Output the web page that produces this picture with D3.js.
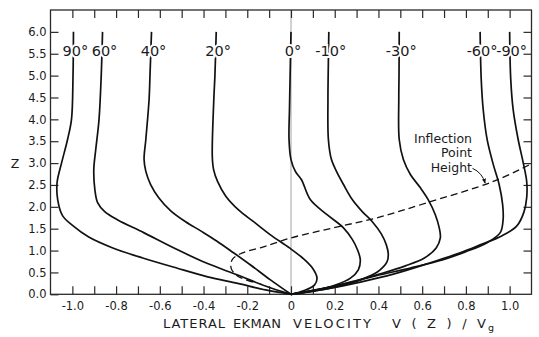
<!DOCTYPE html>
<html>
<head>
<meta charset="utf-8">
<script src="https://cdn.jsdelivr.net/npm/d3@7"></script>
<style>
  body { margin: 0; background: #fff; }
  svg { display: block; }
  text { font-family: "DejaVu Sans", sans-serif; fill: #1b1b1b; }
</style>
</head>
<body>
<svg id="chart" width="539" height="337"></svg>
<script>
// lateral Ekman velocity v(z)/Vg against height z, one profile per latitude
// each profile is a list of [v, z] pairs
var lat90  = [[-0.995,6.0],[-0.997,5.0],[-1.004,4.0],[-1.022,3.54],[-1.049,3.01],[-1.070,2.55],[-1.067,2.16],[-1.045,1.80],[-0.998,1.57],[-0.925,1.31],[-0.815,1.06],[-0.678,0.83],[-0.523,0.60],[-0.381,0.40],[-0.244,0.25],[-0.116,0.10],[0,0]];
var lat60  = [[-0.862,6.0],[-0.868,5.0],[-0.878,4.0],[-0.893,3.31],[-0.902,2.85],[-0.897,2.39],[-0.884,2.09],[-0.852,1.89],[-0.792,1.70],[-0.674,1.41],[-0.528,1.04],[-0.390,0.72],[-0.244,0.44],[-0.117,0.19],[0,0]];
var lat40  = [[-0.638,6.0],[-0.645,5.0],[-0.649,4.46],[-0.664,3.54],[-0.672,3.08],[-0.664,2.81],[-0.642,2.51],[-0.605,2.21],[-0.550,1.91],[-0.482,1.66],[-0.413,1.45],[-0.340,1.22],[-0.263,0.95],[-0.185,0.67],[-0.094,0.33],[0,0]];
var lat20  = [[-0.342,6.0],[-0.348,5.0],[-0.353,4.46],[-0.360,3.15],[-0.354,2.85],[-0.336,2.58],[-0.299,2.25],[-0.240,1.93],[-0.171,1.66],[-0.094,1.36],[-0.007,1.06],[0.053,0.83],[0.098,0.60],[0.119,0.37],[0.107,0.21],[0.057,0.08],[0,0]];
var lat0   = [[0,6.0],[-0.004,5.0],[-0.007,4.22],[-0.009,3.54],[0,3.08],[0.020,2.81],[0.048,2.62],[0.089,2.16],[0.165,1.82],[0.240,1.52],[0.281,1.25],[0.304,1.02],[0.317,0.79],[0.308,0.56],[0.272,0.37],[0.203,0.21],[0.120,0.10],[0,0]];
var latS10 = [[0.173,6.0],[0.170,5.0],[0.169,4.46],[0.171,3.54],[0.185,3.08],[0.208,2.81],[0.240,2.51],[0.281,2.16],[0.326,1.89],[0.372,1.66],[0.413,1.38],[0.436,1.13],[0.445,0.92],[0.439,0.74],[0.395,0.51],[0.317,0.33],[0.226,0.19],[0.112,0.08],[0,0]];
var latS30 = [[0.495,6.0],[0.494,5.0],[0.493,4.46],[0.495,3.54],[0.514,3.08],[0.546,2.74],[0.591,2.44],[0.628,2.16],[0.660,1.82],[0.678,1.52],[0.683,1.29],[0.664,1.06],[0.610,0.83],[0.523,0.65],[0.409,0.47],[0.295,0.31],[0.158,0.14],[0,0]];
var latS60 = [[0.865,6.0],[0.870,4.92],[0.879,4.23],[0.897,3.54],[0.925,2.97],[0.952,2.51],[0.968,2.05],[0.970,1.70],[0.957,1.41],[0.897,1.18],[0.797,0.97],[0.696,0.79],[0.546,0.60],[0.386,0.42],[0.226,0.21],[0.089,0.08],[0,0]];
var latS90 = [[1.000,6.0],[1.005,4.92],[1.016,4.23],[1.039,3.54],[1.062,3.01],[1.078,2.58],[1.078,2.21],[1.066,1.89],[1.034,1.57],[0.966,1.34],[0.865,1.13],[0.774,0.95],[0.637,0.72],[0.468,0.46],[0.317,0.28],[0.158,0.12],[0,0]];

var latLabels = ["90°", "60°", "40°", "20°", "0°", "-10°", "-30°", "-60°", "-90°"];

// dashed locus of the inflection points
var inflection = [[-0.175,0.28],[-0.245,0.42],[-0.274,0.60],[-0.268,0.80],[-0.225,0.94],[-0.130,1.08],[0,1.29],[0.194,1.52],[0.394,1.75],[0.620,2.09],[0.925,2.58],[1.094,2.97]];

var xTickValues = d3.range(-10, 11).map(function(i){ return i / 10; });
var xLabelValues = [-1.0, -0.8, -0.6, -0.4, -0.2, 0, 0.2, 0.4, 0.6, 0.8, 1.0];
var xLabelText = ["-1.0", "-0.8", "-0.6", "-0.4", "-0.2", "0", "0.2", "0.4", "0.6", "0.8", "1.0"];
var yTickValues = [0, 0.5, 1.0, 1.5, 2.0, 2.5, 3.0, 3.5, 4.0, 4.5, 5.0, 5.5, 6.0];
var yLabelText = ["0.0", "0.5", "1.0", "1.5", "2.0", "2.5", "3.0", "3.5", "4.0", "4.5", "5.0", "5.5", "6.0"];

var noteLines = ["Inflection", "Point", "Height"];
var titleWords = ["LATERAL", "EKMAN", "VELOCITY", "V(Z)/V"];

window.onload = function(){

    var svg = d3.select("#chart");

    var x = d3.scaleLinear().domain([-1.1, 1.1]).range([50.5, 531.5]);
    var y = d3.scaleLinear().domain([0, 6.5]).range([294.3, 10]);

    var profiles = [lat90, lat60, lat40, lat20, lat0, latS10, latS30, latS60, latS90];

    // zero line
    svg.append('line')
        .attr('x1', x(0)).attr('x2', x(0))
        .attr('y1', y(6.5)).attr('y2', y(0))
        .attr('stroke', '#9a9a9a')
        .attr('stroke-width', 0.9);

    // axes with inward ticks
    var lab = {};
    xLabelValues.forEach(function(v, i){ lab[v.toFixed(1)] = xLabelText[i]; });

    var bottom = svg.append('g')
        .attr('transform', 'translate(0,' + y(0) + ')')
        .call(d3.axisBottom(x).tickValues(xTickValues).tickSizeInner(-8).tickSizeOuter(0).tickPadding(8)
            .tickFormat(function(d){ return lab[d.toFixed(1)] || ''; }));

    var top = svg.append('g')
        .attr('transform', 'translate(0,' + y(6.5) + ')')
        .call(d3.axisTop(x).tickValues(xTickValues).tickSizeInner(-8).tickSizeOuter(0).tickFormat(''));

    var left = svg.append('g')
        .attr('transform', 'translate(' + x(-1.1) + ',0)')
        .call(d3.axisLeft(y).tickValues(yTickValues).tickSizeInner(-8).tickSizeOuter(0).tickPadding(4)
            .tickFormat(function(d, i){ return yLabelText[i]; }));

    var right = svg.append('g')
        .attr('transform', 'translate(' + x(1.1) + ',0)')
        .call(d3.axisRight(y).tickValues(yTickValues.slice(1)).tickSizeInner(-8).tickSizeOuter(0).tickFormat(''));

    [bottom, top, left, right].forEach(function(g){
        g.select('.domain').remove();
        g.selectAll('line').attr('stroke', '#2a2a2a').attr('stroke-width', 1.2);
        g.selectAll('text')
            .attr('font-family', '"DejaVu Sans", sans-serif')
            .attr('font-size', '11.5px')
            .attr('fill', '#1b1b1b');
    });

    svg.append('rect')
        .attr('x', x(-1.1)).attr('y', y(6.5))
        .attr('width', x(1.1) - x(-1.1)).attr('height', y(0) - y(6.5))
        .attr('fill', 'none')
        .attr('stroke', '#2a2a2a')
        .attr('stroke-width', 1.3);

    var line = d3.line()
        .x(function(d){ return x(d[0]); })
        .y(function(d){ return y(d[1]); })
        .curve(d3.curveCatmullRom.alpha(0.5));

    svg.append('g').selectAll('path')
        .data(profiles)
        .enter().append('path')
        .attr('d', line)
        .attr('fill', 'none')
        .attr('stroke', '#111')
        .attr('stroke-width', 1.7);

    svg.append('path')
        .attr('d', line(inflection))
        .attr('fill', 'none')
        .attr('stroke', '#111')
        .attr('stroke-width', 1.3)
        .attr('stroke-dasharray', '7,4');

    // latitude labels sit across the top of each profile
    var tags = svg.append('g');
    tags.selectAll('text.halo')
        .data(profiles)
        .enter().append('text')
        .attr('x', function(d){ return x(d[0][0]) + 2; })
        .attr('y', y(5.45))
        .attr('text-anchor', 'middle')
        .attr('font-size', '14.5px')
        .attr('fill', '#fff')
        .attr('stroke', '#fff')
        .attr('stroke-width', 4)
        .text(function(d, i){ return latLabels[i]; });
    tags.selectAll('text.tag')
        .data(profiles)
        .enter().append('text')
        .attr('x', function(d){ return x(d[0][0]) + 2; })
        .attr('y', y(5.45))
        .attr('text-anchor', 'middle')
        .attr('font-size', '14.5px')
        .text(function(d, i){ return latLabels[i]; });

    // note with leader arrow
    svg.append('defs').append('marker')
        .attr('id', 'tip')
        .attr('viewBox', '0 0 10 10')
        .attr('refX', 9).attr('refY', 5)
        .attr('markerWidth', 5).attr('markerHeight', 5)
        .attr('orient', 'auto')
        .append('path').attr('d', 'M0,1L10,5L0,9Z').attr('fill', '#111');

    noteLines.forEach(function(t, i){
        svg.append('text')
            .attr('x', x(0.828))
            .attr('y', y(3.46) + i * 14.3)
            .attr('text-anchor', 'end')
            .attr('font-size', '12.5px')
            .text(t);
    });

    svg.append('path')
        .attr('d', 'M' + x(0.83) + ',' + y(2.88) + 'Q' + x(0.875) + ',' + y(2.78) + ' ' + x(0.888) + ',' + y(2.54))
        .attr('fill', 'none')
        .attr('stroke', '#111')
        .attr('stroke-width', 1)
        .attr('marker-end', 'url(#tip)');

    svg.append('text')
        .attr('x', 15)
        .attr('y', y(3.0))
        .attr('dy', '0.36em')
        .attr('text-anchor', 'middle')
        .attr('font-size', '12.5px')
        .text('Z');

    // axis title, lettered word by word
    var wordX = [163, 233, 293, 392];
    var wordW = [62, 48, 78, 94];
    titleWords.forEach(function(w, i){
        svg.append('text')
            .attr('x', wordX[i])
            .attr('y', 328)
            .attr('font-size', '13px')
            .attr('textLength', wordW[i])
            .attr('lengthAdjust', 'spacing')
            .text(w);
    });
    svg.append('text')
        .attr('x', 488)
        .attr('y', 331)
        .attr('font-size', '9.5px')
        .text('g');
}
</script>
</body>
</html>
